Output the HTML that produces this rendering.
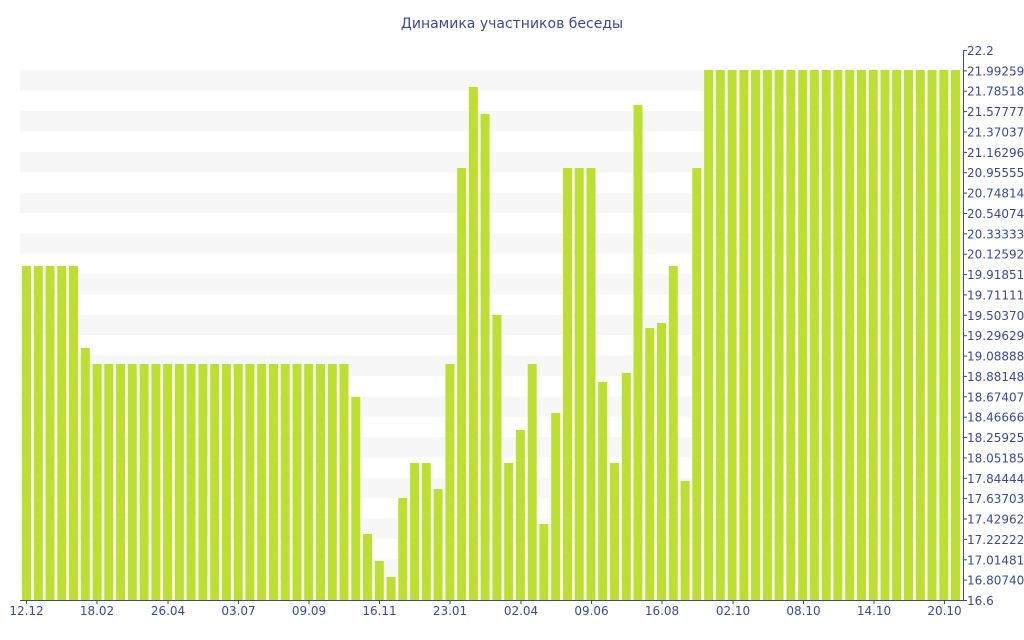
<!DOCTYPE html>
<html><head><meta charset="utf-8"><style>
html,body{margin:0;padding:0;background:#fff;width:1024px;height:640px;overflow:hidden}
svg{display:block;font-family:"DejaVu Sans","Liberation Sans",sans-serif}
</style></head><body>
<svg width="1024" height="640" viewBox="0 0 1024 640">
<text x="512" y="28" text-anchor="middle" font-size="14" fill="#3a4a98">Динамика участников беседы</text>
<g fill="#f7f7f7">
<rect x="20" y="70.4" width="943" height="20.4"/><rect x="20" y="111.1" width="943" height="20.4"/><rect x="20" y="151.9" width="943" height="20.4"/><rect x="20" y="192.6" width="943" height="20.4"/><rect x="20" y="233.3" width="943" height="20.4"/><rect x="20" y="274.1" width="943" height="20.4"/><rect x="20" y="314.8" width="943" height="20.4"/><rect x="20" y="355.6" width="943" height="20.4"/><rect x="20" y="396.3" width="943" height="20.4"/><rect x="20" y="437" width="943" height="20.4"/><rect x="20" y="477.8" width="943" height="20.4"/><rect x="20" y="518.5" width="943" height="20.4"/><rect x="20" y="559.3" width="943" height="20.4"/>
</g>
<g fill="#bde030">
<rect x="22" y="266" width="9" height="334"/><rect x="33.8" y="266" width="9" height="334"/><rect x="45.5" y="266" width="9" height="334"/><rect x="57.3" y="266" width="9" height="334"/><rect x="69" y="266" width="9" height="334"/>
<rect x="80.8" y="348" width="9" height="252"/>
<rect x="92.6" y="364" width="9" height="236"/><rect x="104.3" y="364" width="9" height="236"/><rect x="116.1" y="364" width="9" height="236"/><rect x="127.8" y="364" width="9" height="236"/><rect x="139.6" y="364" width="9" height="236"/><rect x="151.4" y="364" width="9" height="236"/><rect x="163.1" y="364" width="9" height="236"/><rect x="174.9" y="364" width="9" height="236"/><rect x="186.6" y="364" width="9" height="236"/><rect x="198.4" y="364" width="9" height="236"/><rect x="210.2" y="364" width="9" height="236"/><rect x="221.9" y="364" width="9" height="236"/><rect x="233.7" y="364" width="9" height="236"/><rect x="245.4" y="364" width="9" height="236"/><rect x="257.2" y="364" width="9" height="236"/><rect x="269" y="364" width="9" height="236"/><rect x="280.7" y="364" width="9" height="236"/><rect x="292.5" y="364" width="9" height="236"/><rect x="304.2" y="364" width="9" height="236"/><rect x="316" y="364" width="9" height="236"/><rect x="327.8" y="364" width="9" height="236"/><rect x="339.5" y="364" width="9" height="236"/>
<rect x="351.3" y="397" width="9" height="203"/>
<rect x="363" y="534" width="9" height="66"/>
<rect x="374.8" y="561" width="9" height="39"/>
<rect x="386.6" y="577" width="9" height="23"/>
<rect x="398.3" y="498" width="9" height="102"/>
<rect x="410.1" y="463" width="9" height="137"/>
<rect x="421.8" y="463" width="9" height="137"/>
<rect x="433.6" y="489" width="9" height="111"/>
<rect x="445.4" y="364" width="9" height="236"/>
<rect x="457.1" y="168" width="9" height="432"/>
<rect x="468.9" y="87" width="9" height="513"/>
<rect x="480.6" y="114" width="9" height="486"/>
<rect x="492.4" y="315" width="9" height="285"/>
<rect x="504.2" y="463" width="9" height="137"/>
<rect x="515.9" y="430" width="9" height="170"/>
<rect x="527.7" y="364" width="9" height="236"/>
<rect x="539.4" y="524" width="9" height="76"/>
<rect x="551.2" y="413" width="9" height="187"/>
<rect x="563" y="168" width="9" height="432"/>
<rect x="574.7" y="168" width="9" height="432"/>
<rect x="586.5" y="168" width="9" height="432"/>
<rect x="598.2" y="382" width="9" height="218"/>
<rect x="610" y="463" width="9" height="137"/>
<rect x="621.8" y="373" width="9" height="227"/>
<rect x="633.5" y="105" width="9" height="495"/>
<rect x="645.3" y="328" width="9" height="272"/>
<rect x="657" y="323" width="9" height="277"/>
<rect x="668.8" y="266" width="9" height="334"/>
<rect x="680.6" y="481" width="9" height="119"/>
<rect x="692.3" y="168" width="9" height="432"/>
<rect x="704.1" y="70" width="9" height="530"/><rect x="715.8" y="70" width="9" height="530"/><rect x="727.6" y="70" width="9" height="530"/><rect x="739.4" y="70" width="9" height="530"/><rect x="751.1" y="70" width="9" height="530"/><rect x="762.9" y="70" width="9" height="530"/><rect x="774.6" y="70" width="9" height="530"/><rect x="786.4" y="70" width="9" height="530"/><rect x="798.2" y="70" width="9" height="530"/><rect x="809.9" y="70" width="9" height="530"/><rect x="821.7" y="70" width="9" height="530"/><rect x="833.4" y="70" width="9" height="530"/><rect x="845.2" y="70" width="9" height="530"/><rect x="857" y="70" width="9" height="530"/><rect x="868.7" y="70" width="9" height="530"/><rect x="880.5" y="70" width="9" height="530"/><rect x="892.2" y="70" width="9" height="530"/><rect x="904" y="70" width="9" height="530"/><rect x="915.8" y="70" width="9" height="530"/><rect x="927.5" y="70" width="9" height="530"/><rect x="939.3" y="70" width="9" height="530"/><rect x="951" y="70" width="9" height="530"/>
</g>
<g stroke="#3a4a98" stroke-width="1">
<line x1="20" y1="600.5" x2="963" y2="600.5"/>
<line x1="963.5" y1="50" x2="963.5" y2="600"/>
</g>
<g stroke="#3a4a98" stroke-width="1">
<line x1="963" y1="50.5" x2="967" y2="50.5"/><line x1="963" y1="70.9" x2="967" y2="70.9"/><line x1="963" y1="91.2" x2="967" y2="91.2"/><line x1="963" y1="111.6" x2="967" y2="111.6"/><line x1="963" y1="132" x2="967" y2="132"/><line x1="963" y1="152.4" x2="967" y2="152.4"/><line x1="963" y1="172.7" x2="967" y2="172.7"/><line x1="963" y1="193.1" x2="967" y2="193.1"/><line x1="963" y1="213.5" x2="967" y2="213.5"/><line x1="963" y1="233.8" x2="967" y2="233.8"/><line x1="963" y1="254.2" x2="967" y2="254.2"/><line x1="963" y1="274.6" x2="967" y2="274.6"/><line x1="963" y1="294.9" x2="967" y2="294.9"/><line x1="963" y1="315.3" x2="967" y2="315.3"/><line x1="963" y1="335.7" x2="967" y2="335.7"/><line x1="963" y1="356.1" x2="967" y2="356.1"/><line x1="963" y1="376.4" x2="967" y2="376.4"/><line x1="963" y1="396.8" x2="967" y2="396.8"/><line x1="963" y1="417.2" x2="967" y2="417.2"/><line x1="963" y1="437.5" x2="967" y2="437.5"/><line x1="963" y1="457.9" x2="967" y2="457.9"/><line x1="963" y1="478.3" x2="967" y2="478.3"/><line x1="963" y1="498.6" x2="967" y2="498.6"/><line x1="963" y1="519" x2="967" y2="519"/><line x1="963" y1="539.4" x2="967" y2="539.4"/><line x1="963" y1="559.8" x2="967" y2="559.8"/><line x1="963" y1="580.1" x2="967" y2="580.1"/><line x1="963" y1="600.5" x2="967" y2="600.5"/>
<line x1="26.5" y1="600" x2="26.5" y2="604"/><line x1="97" y1="600" x2="97" y2="604"/><line x1="168" y1="600" x2="168" y2="604"/><line x1="238.5" y1="600" x2="238.5" y2="604"/><line x1="309" y1="600" x2="309" y2="604"/><line x1="379.5" y1="600" x2="379.5" y2="604"/><line x1="450" y1="600" x2="450" y2="604"/><line x1="521" y1="600" x2="521" y2="604"/><line x1="591.5" y1="600" x2="591.5" y2="604"/><line x1="662" y1="600" x2="662" y2="604"/><line x1="733" y1="600" x2="733" y2="604"/><line x1="803.5" y1="600" x2="803.5" y2="604"/><line x1="874" y1="600" x2="874" y2="604"/><line x1="944.5" y1="600" x2="944.5" y2="604"/>
</g>
<g font-size="12" fill="#3a4a98">
<text x="967" y="55">22.2</text><text x="967" y="75.4">21.992592</text><text x="967" y="95.7">21.785185</text><text x="967" y="116.1">21.577777</text><text x="967" y="136.5">21.370370</text><text x="967" y="156.9">21.162962</text><text x="967" y="177.2">20.955555</text><text x="967" y="197.6">20.748148</text><text x="967" y="218">20.540740</text><text x="967" y="238.3">20.333333</text><text x="967" y="258.7">20.125925</text><text x="967" y="279.1">19.918518</text><text x="967" y="299.4">19.711111</text><text x="967" y="319.8">19.503703</text><text x="967" y="340.2">19.296296</text><text x="967" y="360.6">19.088888</text><text x="967" y="380.9">18.881481</text><text x="967" y="401.3">18.674074</text><text x="967" y="421.7">18.466666</text><text x="967" y="442">18.259259</text><text x="967" y="462.4">18.051851</text><text x="967" y="482.8">17.844444</text><text x="967" y="503.1">17.637037</text><text x="967" y="523.5">17.429629</text><text x="967" y="543.9">17.222222</text><text x="967" y="564.3">17.014814</text><text x="967" y="584.6">16.807407</text><text x="967" y="605">16.6</text>
</g>
<g font-size="12" fill="#3a4a98" text-anchor="middle">
<text x="26.5" y="615">12.12</text><text x="97" y="615">18.02</text><text x="168" y="615">26.04</text><text x="238.5" y="615">03.07</text><text x="309" y="615">09.09</text><text x="379.5" y="615">16.11</text><text x="450" y="615">23.01</text><text x="521" y="615">02.04</text><text x="591.5" y="615">09.06</text><text x="662" y="615">16.08</text><text x="733" y="615">02.10</text><text x="803.5" y="615">08.10</text><text x="874" y="615">14.10</text><text x="944.5" y="615">20.10</text>
</g>
</svg>
</body></html>
